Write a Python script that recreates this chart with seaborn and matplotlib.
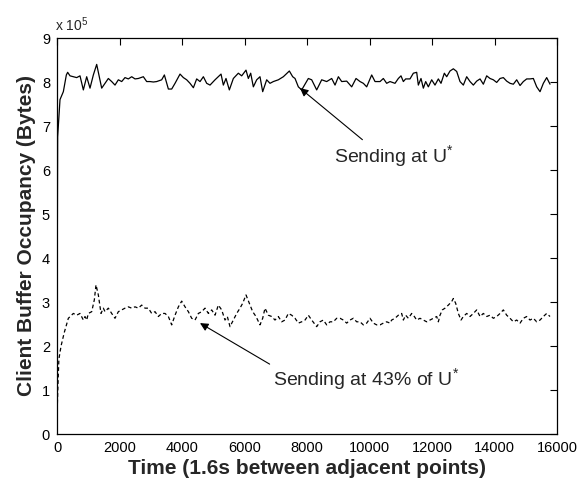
import numpy as np
import pandas as pd
import matplotlib
matplotlib.use("Agg")
import matplotlib.pyplot as plt
import seaborn as sns

# ---- data (buffer occupancy in units of 1e5 bytes) ----
solid_time = [0, 20, 96, 203, 299, 341, 416, 523, 630, 736, 843, 950, 1056, 1163, 1270, 1430,
              1536, 1643, 1750, 1856, 1963, 2070, 2176, 2283, 2390, 2497, 2603, 2763, 2870, 2977,
              3083, 3190, 3350, 3436, 3564, 3670, 3777, 3937, 4044, 4150, 4257, 4364, 4470, 4577,
              4684, 4790, 4897, 5057, 5249, 5323, 5408, 5515, 5643, 5803, 5910, 6048, 6123, 6198,
              6283, 6390, 6496, 6582, 6710, 6816, 6923, 7083, 7243, 7435, 7542, 7617, 7723, 7830,
              8043, 8150, 8310, 8470, 8630, 8790, 8897, 9004, 9110, 9270, 9430, 9569, 9697, 9803,
              9910, 10070, 10177, 10337, 10443, 10550, 10656, 10816, 10923, 11008, 11083, 11157,
              11296, 11403, 11510, 11563, 11648, 11723, 11798, 11883, 11990, 12096, 12203, 12288,
              12395, 12470, 12576, 12683, 12790, 12896, 13003, 13110, 13217, 13323, 13430, 13537,
              13643, 13750, 13857, 13963, 14070, 14177, 14283, 14390, 14497, 14603, 14710, 14817,
              14923, 15030, 15137, 15243, 15350, 15457, 15563, 15670, 15777]
solid_vals = [1.70, 6.75, 7.60, 7.78, 8.16, 8.22, 8.14, 8.12, 8.10, 8.14, 7.82, 8.12, 7.86, 8.16, 8.40, 7.86,
              7.97, 8.08, 8.01, 7.93, 8.05, 8.01, 8.10, 8.07, 8.12, 8.07, 8.08, 8.12, 8.01, 8.01,
              8.00, 8.01, 8.05, 8.16, 7.84, 7.84, 7.97, 8.18, 8.10, 8.05, 7.97, 7.87, 8.07, 8.01,
              8.12, 7.97, 7.93, 8.05, 8.18, 7.93, 8.08, 7.82, 8.08, 8.20, 8.14, 8.27, 8.08, 8.20,
              7.89, 8.05, 8.12, 7.78, 8.05, 7.97, 8.01, 8.05, 8.12, 8.25, 8.12, 8.08, 7.89, 7.82,
              8.08, 8.05, 7.82, 8.05, 8.01, 8.08, 7.93, 8.12, 8.01, 8.02, 7.89, 8.08, 8.01, 7.97,
              7.89, 8.16, 8.01, 8.01, 8.08, 7.97, 8.01, 7.97, 8.08, 8.14, 8.01, 8.07,
              8.07, 8.20, 8.22, 7.93, 8.08, 7.86, 8.01, 7.89, 8.05, 7.93, 8.07, 7.97,
              8.20, 8.12, 8.25, 8.30, 8.24, 8.01, 7.93, 8.12, 8.01, 7.93, 8.02, 8.07,
              7.95, 8.14, 8.08, 8.05, 7.99, 8.08, 8.10, 8.02, 7.97, 7.95, 8.05, 7.92,
              8.01, 8.07, 8.07, 8.08, 7.89, 7.78, 7.97, 8.10, 7.95]

dashed_time = [0, 30, 60, 130, 230, 363, 523, 630, 736, 843, 896, 950, 1003, 1110, 1195, 1248, 1323,
               1408, 1483, 1536, 1643, 1750, 1856, 1963, 2070, 2176, 2283, 2390, 2497, 2603, 2710,
               2817, 2923, 3030, 3137, 3243, 3350, 3457, 3564, 3670, 3777, 3884, 3990, 4097, 4204,
               4310, 4417, 4524, 4630, 4737, 4844, 4950, 5057, 5163, 5270, 5376, 5451, 5536, 5643,
               5750, 5856, 5941, 6048, 6155, 6262, 6368, 6496, 6582, 6656, 6763, 6870, 6976, 7083,
               7190, 7296, 7403, 7510, 7617, 7723, 7830, 7937, 8043, 8150, 8310, 8416, 8523, 8630,
               8736, 8843, 8950, 9056, 9163, 9270, 9376, 9483, 9590, 9697, 9803, 9910, 10017, 10123,
               10230, 10336, 10443, 10550, 10656, 10709, 10816, 10923, 11030, 11083, 11157, 11243,
               11350, 11435, 11510, 11616, 11723, 11830, 11936, 12043, 12150, 12203, 12256, 12331,
               12416, 12523, 12630, 12683, 12758, 12843, 12929, 13003, 13110, 13217, 13323, 13430,
               13537, 13643, 13750, 13857, 13963, 14070, 14177, 14283, 14390, 14497, 14603, 14710,
               14817, 14923, 15030, 15137, 15243, 15350, 15457, 15563, 15670, 15777]
dashed_vals = [0.40, 1.10, 1.70, 2.00, 2.30, 2.63, 2.74, 2.70, 2.74, 2.59, 2.67, 2.59, 2.74, 2.78, 3.05, 3.39, 3.16,
               2.74, 2.86, 2.78, 2.86, 2.74, 2.63, 2.78, 2.82, 2.86, 2.89, 2.86, 2.89, 2.86, 2.93,
               2.86, 2.86, 2.74, 2.78, 2.67, 2.74, 2.74, 2.67, 2.48, 2.70, 2.89, 3.02, 2.89, 2.78,
               2.63, 2.59, 2.74, 2.78, 2.86, 2.74, 2.82, 2.70, 2.93, 2.82, 2.59, 2.67, 2.44, 2.59,
               2.74, 2.86, 2.97, 3.16, 2.97, 2.78, 2.67, 2.48, 2.63, 2.86, 2.70, 2.67, 2.59, 2.67,
               2.55, 2.59, 2.74, 2.70, 2.63, 2.52, 2.55, 2.59, 2.70, 2.59, 2.44, 2.55, 2.59, 2.48,
               2.55, 2.55, 2.63, 2.63, 2.59, 2.52, 2.59, 2.63, 2.55, 2.55, 2.48, 2.52, 2.63, 2.52,
               2.48, 2.48, 2.52, 2.55, 2.52, 2.59, 2.63, 2.70, 2.74, 2.59, 2.70, 2.63,
               2.74, 2.67, 2.59, 2.63, 2.59, 2.55, 2.59, 2.63, 2.67, 2.55, 2.70, 2.82,
               2.86, 2.93, 3.01, 3.08, 2.97, 2.74, 2.59, 2.67, 2.74, 2.67, 2.74, 2.82,
               2.67, 2.74, 2.67, 2.70, 2.63, 2.67, 2.74, 2.82, 2.70, 2.63, 2.55, 2.59,
               2.52, 2.63, 2.67, 2.59, 2.63, 2.55, 2.59, 2.67, 2.74, 2.67]

x_ticks = [0, 2000, 4000, 6000, 8000, 10000, 12000, 14000, 16000]
y_ticks = [0, 1, 2, 3, 4, 5, 6, 7, 8, 9]

label_full = "Sending at U$^{*}$"
label_part = "Sending at 43% of U$^{*}$"

# ---- style ----
sns.set_style("white")
plt.rcParams["font.family"] = ["Liberation Sans", "DejaVu Sans"]
plt.rcParams["mathtext.fontset"] = "custom"
plt.rcParams["mathtext.rm"] = "Liberation Sans"
plt.rcParams["mathtext.it"] = "Liberation Sans:italic"
plt.rcParams["mathtext.bf"] = "Liberation Sans:bold"

fig = plt.figure(figsize=(5.83, 4.82), dpi=100)
fig.patch.set_facecolor("white")
ax = fig.add_axes([57 / 583, 1 - 434 / 482, 500 / 583, 396 / 482])

df_s = pd.DataFrame({"t": solid_time, "v": solid_vals})
df_d = pd.DataFrame({"t": dashed_time, "v": dashed_vals})
sns.lineplot(data=df_s, x="t", y="v", ax=ax, color="black", lw=0.9, estimator=None, sort=False)
sns.lineplot(data=df_d, x="t", y="v", ax=ax, color="black", lw=0.9, estimator=None, sort=False,
             linestyle=(0, (3, 2.2)))

ax.set_xlim(0, 16000)
ax.set_ylim(0, 9)
ax.set_xticks(x_ticks)
ax.set_yticks(y_ticks)
ax.set_xticklabels([str(v) for v in x_ticks])
ax.set_yticklabels([str(v) for v in y_ticks])
ax.tick_params(direction="in", top=True, right=True, length=5, width=0.8,
               labelsize=10.5, pad=5, colors="black")
for s in ax.spines.values():
    s.set_visible(True)
    s.set_color("black")
    s.set_linewidth(0.9)

ax.set_xlabel("Time (1.6s between adjacent points)", fontsize=15, fontweight="bold", labelpad=3)
ax.set_ylabel("Client Buffer Occupancy (Bytes)", fontsize=15, fontweight="bold", labelpad=4)

ax.text(-0.004, 1.018, r"x 10$^{5}$", transform=ax.transAxes, ha="left", va="baseline", fontsize=10)

arrow = dict(arrowstyle="-|>", color="black", lw=0.8, mutation_scale=12, shrinkA=0, shrinkB=0)
ax.annotate(label_full, xy=(7776, 7.86), xytext=(10784, 6.32), ha="center", va="center",
            fontsize=14, arrowprops=dict(arrow, relpos=(0.27, 1.0)))
ax.annotate(label_part, xy=(4576, 2.52), xytext=(9888, 1.25), ha="center", va="center",
            fontsize=14, arrowprops=dict(arrow, relpos=(0.0, 1.0)))

fig.savefig("out.png", dpi=100, facecolor="white")
